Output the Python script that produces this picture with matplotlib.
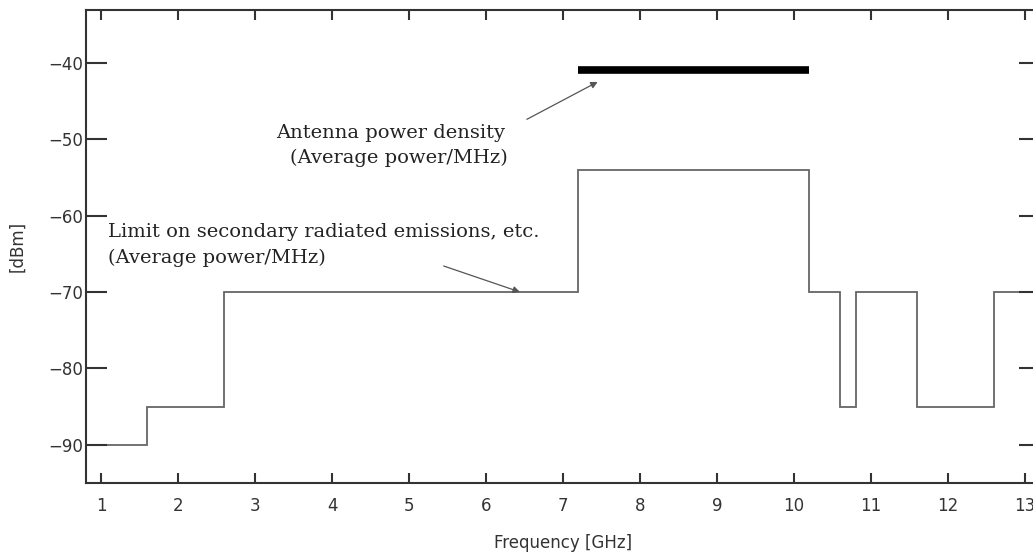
import matplotlib.pyplot as plt
import numpy as np

# limit mask: band edges [GHz] and level in each band [dBm]
edges = [0.805, 1.6, 2.6, 7.2, 10.2, 10.6, 10.8, 11.6, 12.6, 13.195]
levels = [-90, -85, -70, -54, -70, -85, -70, -85, -70]

# antenna power density band
ant_lo, ant_hi = 7.2, 10.2
ant_level = -41

xticks = np.arange(1, 14)
yticks = [-90, -80, -70, -60, -50, -40]

fig = plt.figure(figsize=(10.33, 5.59), dpi=100)
ax = fig.add_axes([0.0833, 0.136, 0.9235, 0.846])

ax.stairs(levels, edges, baseline=None, color="#666666", lw=1.3)
ax.hlines(ant_level, ant_lo, ant_hi, color="black", lw=5.5)

ax.set_xlim(0.805, 13.195)
ax.set_ylim(-95, -33.1)
ax.set_xticks(xticks)
ax.set_yticks(yticks)

for s in ax.spines.values():
    s.set_color("#333333")
    s.set_linewidth(1.5)
ax.tick_params(axis="x", direction="in", top=True, length=7, width=1.5,
               color="#333333", labelsize=12, labelcolor="#333333", pad=10)
ax.tick_params(axis="y", direction="in", right=True, length=15, width=1.5,
               color="#333333", labelsize=12, labelcolor="#333333", pad=2)

ax.set_xlabel("Frequency [GHz]", fontsize=12, color="#333333", labelpad=14)
ax.set_ylabel("[dBm]", fontsize=12, color="#333333", labelpad=16)

serif = dict(family="DejaVu Serif", fontsize=14, color="#222222", va="center")
ax.text(3.27, -49.2, "Antenna power density", **serif)
ax.text(3.45, -52.5, "(Average power/MHz)", **serif)
ax.text(1.09, -62.2, "Limit on secondary radiated emissions, etc.", **serif)
ax.text(1.09, -65.6, "(Average power/MHz)", **serif)

arrow = dict(arrowstyle="-|>", color="#555555", lw=0.9, mutation_scale=10,
             shrinkA=0, shrinkB=0)
ax.annotate("", xy=(7.45, -42.5), xytext=(6.53, -47.4), arrowprops=arrow)
ax.annotate("", xy=(6.44, -70.0), xytext=(5.45, -66.6), arrowprops=arrow)

fig.savefig("out.png", dpi=100)
